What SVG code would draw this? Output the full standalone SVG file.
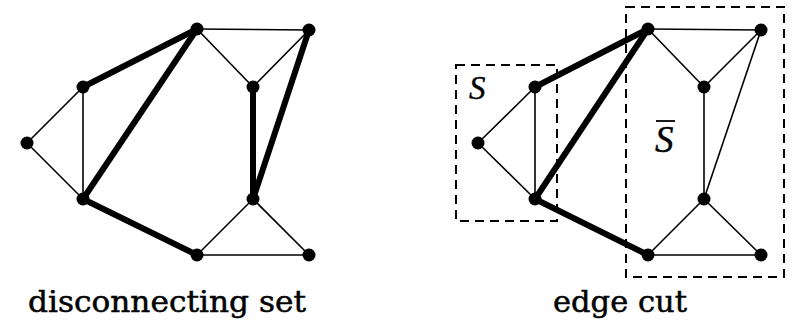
<svg xmlns="http://www.w3.org/2000/svg" width="795" height="325" viewBox="0 0 795 325">
<style>
.thin{stroke:#000;stroke-width:1.6;fill:none;stroke-linecap:round}
.thick{stroke:#000;stroke-width:6;fill:none;stroke-linecap:round}
.node{fill:#000}
.box{stroke:#000;stroke-width:2;fill:none;stroke-dasharray:9 6}
.lbl{font-family:"DejaVu Serif","Liberation Serif",serif;font-size:29px;fill:#000;stroke:#000;stroke-width:0.5}
.set{font-family:"Liberation Serif",serif;font-style:italic;fill:#000;stroke:#000;stroke-width:0.4}
</style>
<rect width="795" height="325" fill="#fff"/>
<g id="connectors">
<g id="left-edges">
<line class="thin" x1="197" y1="29" x2="309" y2="30"/>
<line class="thin" x1="197" y1="29" x2="253" y2="87"/>
<line class="thin" x1="309" y1="30" x2="253" y2="87"/>
<line class="thin" x1="83" y1="87" x2="27" y2="143"/>
<line class="thin" x1="83" y1="87" x2="83" y2="199"/>
<line class="thin" x1="27" y1="143" x2="83" y2="199"/>
<line class="thin" x1="253" y1="199" x2="197" y2="255"/>
<line class="thin" x1="253" y1="199" x2="309" y2="255"/>
<line class="thin" x1="197" y1="255" x2="309" y2="255"/>
<line class="thick" x1="83" y1="87" x2="197" y2="29"/>
<line class="thick" x1="83" y1="199" x2="197" y2="29"/>
<line class="thick" x1="83" y1="199" x2="197" y2="255"/>
<line class="thick" x1="253" y1="87" x2="253" y2="199"/>
<line class="thick" x1="309" y1="30" x2="253" y2="199"/>
</g>
<g id="right-edges">
<line class="thin" x1="648" y1="29" x2="761" y2="30"/>
<line class="thin" x1="648" y1="29" x2="704" y2="87"/>
<line class="thin" x1="761" y1="30" x2="704" y2="87"/>
<line class="thin" x1="535" y1="87" x2="478" y2="143"/>
<line class="thin" x1="535" y1="87" x2="535" y2="199"/>
<line class="thin" x1="478" y1="143" x2="535" y2="199"/>
<line class="thin" x1="704" y1="87" x2="704" y2="199"/>
<line class="thin" x1="761" y1="30" x2="704" y2="199"/>
<line class="thin" x1="704" y1="199" x2="648" y2="255"/>
<line class="thin" x1="704" y1="199" x2="761" y2="255"/>
<line class="thin" x1="648" y1="255" x2="761" y2="255"/>
<line class="thick" x1="535" y1="87" x2="648" y2="29"/>
<line class="thick" x1="535" y1="199" x2="648" y2="29"/>
<line class="thick" x1="535" y1="199" x2="648" y2="255"/>
</g>
</g>
<g id="left-nodes">
<circle id="l-a" class="node" cx="197" cy="29" r="6.5"/>
<circle id="l-b" class="node" cx="309" cy="30" r="6.5"/>
<circle id="l-c" class="node" cx="83" cy="87" r="6.5"/>
<circle id="l-d" class="node" cx="253" cy="87" r="6.5"/>
<circle id="l-e" class="node" cx="27" cy="143" r="6.5"/>
<circle id="l-f" class="node" cx="83" cy="199" r="6.5"/>
<circle id="l-g" class="node" cx="253" cy="199" r="6.5"/>
<circle id="l-h" class="node" cx="197" cy="255" r="6.5"/>
<circle id="l-i" class="node" cx="309" cy="255" r="6.5"/>
</g>
<g id="right-nodes">
<circle id="r-a" class="node" cx="648" cy="29" r="6.5"/>
<circle id="r-b" class="node" cx="761" cy="30" r="6.5"/>
<circle id="r-c" class="node" cx="535" cy="87" r="6.5"/>
<circle id="r-d" class="node" cx="704" cy="87" r="6.5"/>
<circle id="r-e" class="node" cx="478" cy="143" r="6.5"/>
<circle id="r-f" class="node" cx="535" cy="199" r="6.5"/>
<circle id="r-g" class="node" cx="704" cy="199" r="6.5"/>
<circle id="r-h" class="node" cx="648" cy="255" r="6.5"/>
<circle id="r-i" class="node" cx="761" cy="255" r="6.5"/>
</g>
<g id="set-s">
<rect class="box" x="456" y="65" width="101" height="156"/>
<text class="set" x="469" y="99" font-size="33">S</text>
</g>
<g id="set-sbar">
<rect class="box" x="626" y="7" width="158" height="270"/>
<text class="set" x="655" y="152" font-size="37">S</text>
<line x1="656" y1="121" x2="675" y2="121" stroke="#000" stroke-width="1.8"/>
</g>
<text class="lbl" x="28" y="312" textLength="278" lengthAdjust="spacingAndGlyphs">disconnecting set</text>
<text class="lbl" x="553" y="312" textLength="134" lengthAdjust="spacingAndGlyphs">edge cut</text>
</svg>
